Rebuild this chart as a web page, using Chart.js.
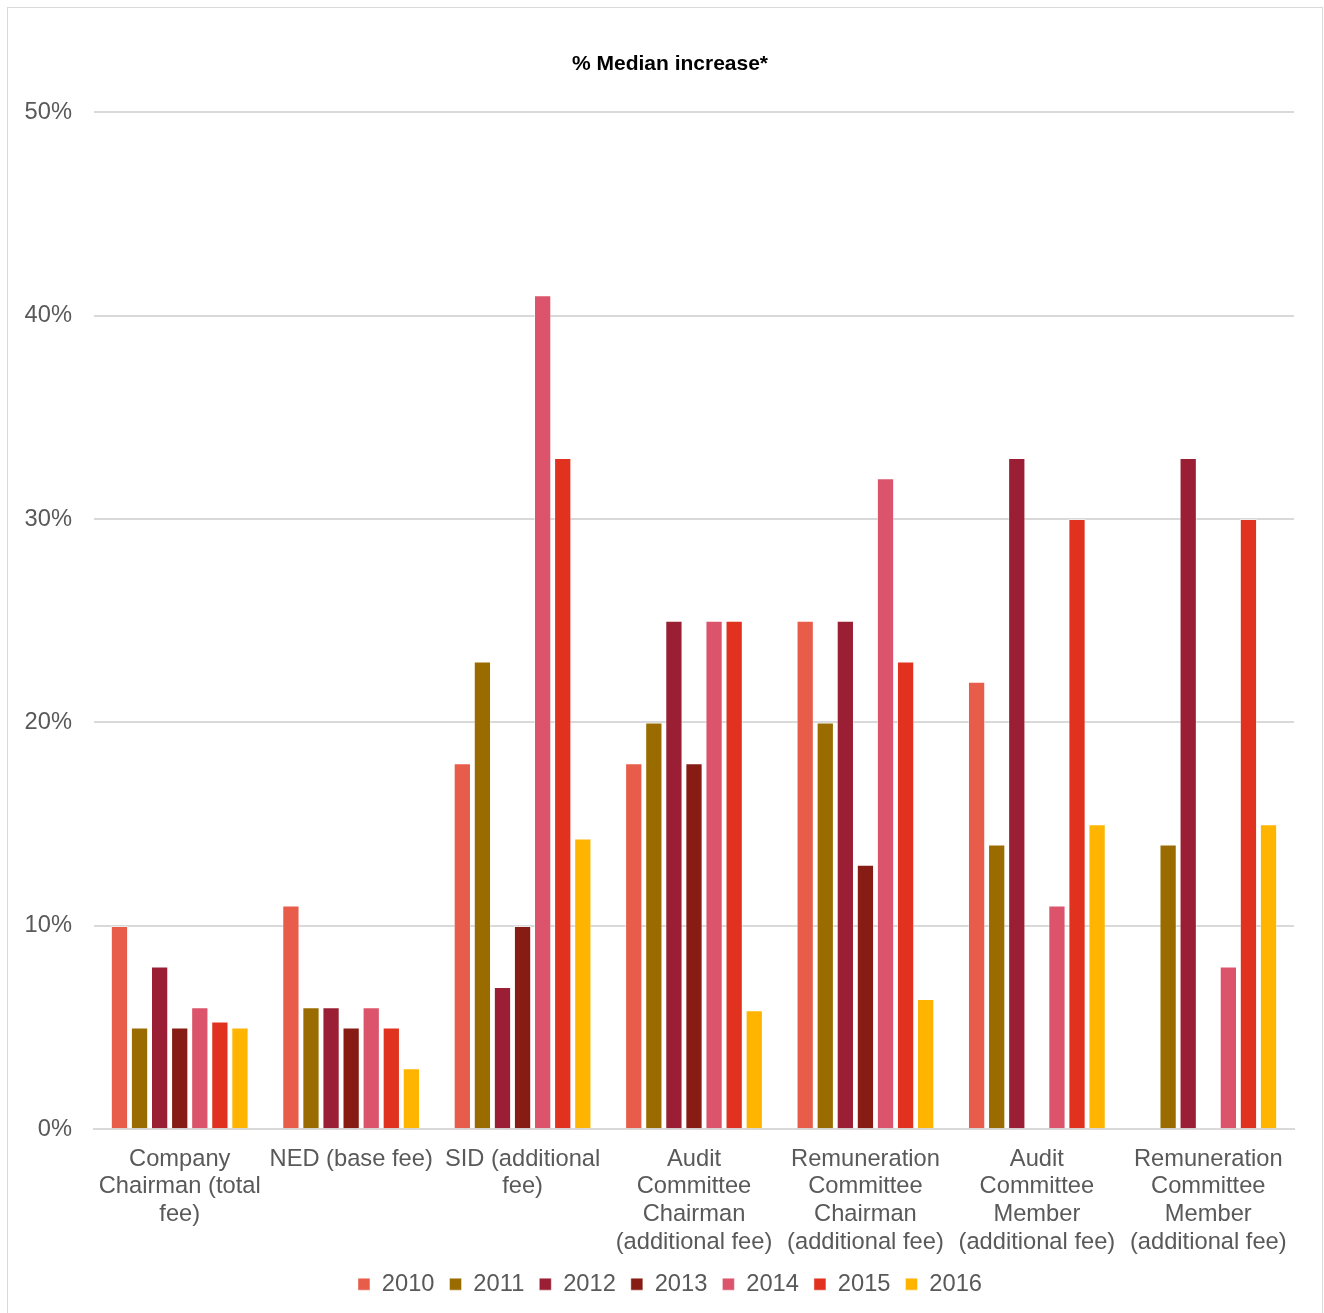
<!DOCTYPE html>
<html lang="en">
  <head>
    <meta charset="utf-8" />
    <title>% Median increase</title>
    <style>
      body { margin: 0; background: #fff; }
      #frame {
        position: absolute; left: 7px; top: 7px;
        width: 1316px; height: 1310px;
        border: 1px solid #d9d9d9; box-sizing: border-box;
      }
      #wrap { position: absolute; left: 0; top: 0; width: 1314px; height: 1308px; }
    </style>
    <script src="https://cdn.jsdelivr.net/npm/chart.js"></script>
  </head>
  <body>
    <div id="frame">
      <div id="wrap"><canvas id="feeChart"></canvas></div>
    </div>
    <script>
      const categories = [
        ['Company', 'Chairman (total', 'fee)'],
        ['NED (base fee)'],
        ['SID (additional', 'fee)'],
        ['Audit', 'Committee', 'Chairman', '(additional fee)'],
        ['Remuneration', 'Committee', 'Chairman', '(additional fee)'],
        ['Audit', 'Committee', 'Member', '(additional fee)'],
        ['Remuneration', 'Committee', 'Member', '(additional fee)']
      ];
      const years = ['2010', '2011', '2012', '2013', '2014', '2015', '2016'];
      const v2010 = [10, 11, 18, 18, 25, 22, null];
      const v2011 = [5, 6, 23, 20, 20, 14, 14];
      const v2012 = [8, 6, 7, 25, 25, 33, 33];
      const v2013 = [5, 5, 10, 18, 13, null, null];
      const v2014 = [6, 6, 41, 25, 32, 11, 8];
      const v2015 = [5.3, 5, 33, 25, 23, 30, 30];
      const v2016 = [5, 3, 14.3, 5.85, 6.4, 15, 15];
      const yTicks = [0, 10, 20, 30, 40, 50];
      const colours = ['#e85c4a', '#9a6c00', '#9a1e34', '#861c14', '#db546b', '#e0321e', '#ffb400'];

      const seriesValues = [v2010, v2011, v2012, v2013, v2014, v2015, v2016];
      const textGrey = '#595959';
      const font = 'Liberation Sans, Arial, sans-serif';
      const fontSize = 23.7;

      // the y labels sit partly in the left layout padding; widen their clip box
      const unclipY = {
        id: 'unclipY',
        afterLayout(chart) { chart.scales.y.left = 0; }
      };

      const ctx = document.getElementById('feeChart').getContext('2d');
      new Chart(ctx, {
        type: 'bar',
        data: {
          labels: categories,
          datasets: years.map((y, i) => ({
            label: y,
            data: seriesValues[i],
            backgroundColor: colours[i],
            borderColor: 'rgba(255,255,255,0.45)',
            borderWidth: 1,
            barPercentage: 0.86,
            categoryPercentage: 0.82
          }))
        },
        plugins: [unclipY],
        options: {
          responsive: true,
          maintainAspectRatio: false,
          animation: false,
          // asymmetric side padding keeps title and legend centred where the original has them
          layout: { padding: { left: 38, right: 28, top: 0, bottom: 10 } },
          plugins: {
            title: {
              display: true,
              text: '% Median increase*',
              color: '#000',
              font: { family: font, size: 21, weight: 'bold' },
              padding: { top: 44, bottom: 35 }
            },
            legend: {
              position: 'bottom',
              labels: {
                color: textGrey,
                font: { family: font, size: fontSize },
                boxWidth: 12,
                boxHeight: 12,
                padding: 15
              }
            },
            tooltip: { enabled: false }
          },
          scales: {
            x: {
              grid: { display: false },
              border: { color: '#d9d9d9', width: 2 },
              ticks: {
                color: textGrey,
                font: { family: font, size: fontSize, lineHeight: 1.17 },
                maxRotation: 0,
                autoSkip: false,
                padding: 8
              },
              afterFit: (s) => { s.height = 128; }
            },
            y: {
              min: 0,
              max: 50,
              afterBuildTicks: (s) => { s.ticks = yTicks.map(v => ({ value: v })); },
              grid: { color: '#d9d9d9', lineWidth: 2, drawTicks: false },
              border: { display: false },
              ticks: {
                color: textGrey,
                font: { family: font, size: fontSize },
                padding: 22,
                callback: (v) => v + '%'
              },
              afterFit: (s) => { s.width = 48; }
            }
          }
        }
      });
    </script>
  </body>
</html>
